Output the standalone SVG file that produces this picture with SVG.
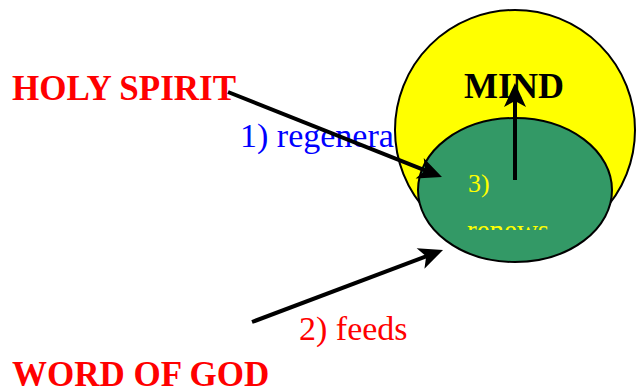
<svg xmlns="http://www.w3.org/2000/svg" width="636" height="390" viewBox="0 0 636 390">
<style>
.bold{font-family:"Liberation Serif","Times New Roman",serif;font-weight:bold;font-size:35px;fill:#ff0000}
.lbl{font-family:"Liberation Serif","Times New Roman",serif;font-size:34px}
.arrow{stroke:#000;stroke-width:4;fill:none;marker-end:url(#ah)}
</style>
<defs>
<marker id="ah" markerUnits="userSpaceOnUse" viewBox="-20 -12 28 24" markerWidth="28" markerHeight="24" refX="0" refY="0" orient="auto">
<path d="M-18,-11 L6,0 L-18,11 L-12,0 z" fill="#000"/>
</marker>
<clipPath id="clipRenews"><rect x="440" y="200" width="140" height="30"/></clipPath>
</defs>
<rect width="636" height="390" fill="#fff"/>
<g id="label-regenerates">
<text class="lbl" x="240" y="147" fill="#0000ff">1) regenera</text>
</g>
<g id="mind">
<circle cx="515" cy="130" r="120" fill="#ffff00" stroke="#000" stroke-width="2"/>
<text x="514" y="98" text-anchor="middle" font-family="Liberation Serif, Times New Roman, serif" font-weight="bold" font-size="36" fill="#000">MIND</text>
</g>
<g id="heart">
<ellipse cx="515" cy="190" rx="97" ry="72" fill="#339966" stroke="#000" stroke-width="2"/>
<text x="468" y="192" font-family="Liberation Serif, Times New Roman, serif" font-size="26" fill="#ffff00">3)</text>
<text x="467" y="240" clip-path="url(#clipRenews)" font-family="Liberation Serif, Times New Roman, serif" font-size="29" fill="#ffff00">renews</text>
</g>
<g id="holy-spirit">
<text class="bold" x="12" y="100">HOLY SPIRIT</text>
</g>
<g id="word-of-god">
<text class="bold" x="12" y="386">WORD OF GOD</text>
</g>
<g id="label-feeds">
<text class="lbl" x="299" y="340" fill="#ff0000">2) feeds</text>
</g>
<g id="connectors">
<line class="arrow" x1="228" y1="92" x2="436.4" y2="174.8"/>
<line class="arrow" x1="252" y1="322" x2="437.4" y2="252.1"/>
<line class="arrow" x1="515" y1="180" x2="515" y2="89"/>
</g>
</svg>
